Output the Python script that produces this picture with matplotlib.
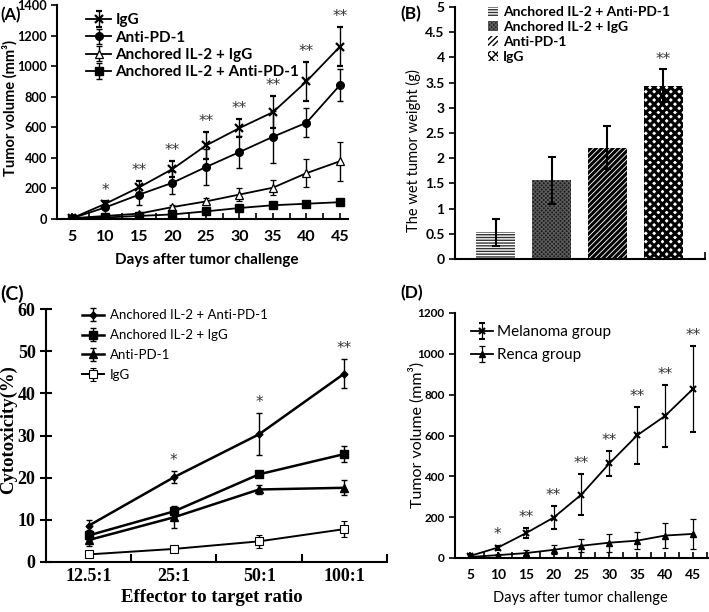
import matplotlib
matplotlib.use("Agg")
import matplotlib.pyplot as plt
import numpy as np

# ---------------- data ----------------
days = [5, 10, 15, 20, 25, 30, 35, 40, 45]
a_igg = [5, 100, 207, 327, 481, 595, 699, 900, 1128]
a_igg_err = [5, 15, 40, 55, 90, 60, 105, 125, 130]
a_pd1 = [5, 76, 159, 237, 340, 438, 538, 630, 876]
a_pd1_err = [3, 12, 65, 75, 120, 105, 170, 95, 105]
a_il2igg = [5, 20, 35, 78, 115, 160, 205, 300, 378]
a_il2igg_err = [2, 5, 10, 15, 25, 40, 50, 90, 128]
a_il2pd1 = [3, 10, 20, 30, 50, 72, 90, 100, 110]
a_il2pd1_err = [2, 3, 5, 6, 7, 8, 8, 8, 8]
a_stars = ["", "*", "**", "**", "**", "**", "**", "**", "**"]

b_groups = ["Anchored IL-2 + Anti-PD-1", "Anchored IL-2 + IgG", "Anti-PD-1", "IgG"]
b_vals = [0.53, 1.56, 2.21, 3.44]
b_err = [0.27, 0.46, 0.43, 0.32]

ratios = ["12.5:1", "25:1", "50:1", "100:1"]
c_il2pd1 = [8.6, 20.1, 30.3, 44.7]
c_il2pd1_err = [1.4, 1.4, 5.0, 3.4]
c_il2igg = [6.3, 12.0, 20.8, 25.6]
c_il2igg_err = [1.2, 1.3, 0.7, 2.0]
c_pd1 = [5.2, 10.6, 17.2, 17.6]
c_pd1_err = [1.3, 2.5, 1.0, 1.8]
c_igg = [1.8, 3.1, 4.9, 7.8]
c_igg_err = [0.3, 0.4, 1.5, 1.9]
c_stars = ["", "*", "*", "**"]

d_mel = [10, 51, 121, 198, 311, 463, 601, 696, 828]
d_mel_err = [8, 10, 25, 55, 98, 62, 140, 150, 210]
d_ren = [5, 14, 24, 40, 60, 75, 85, 110, 118]
d_ren_err = [8, 8, 15, 22, 32, 45, 42, 60, 75]
d_stars = ["", "*", "**", "**", "**", "**", "**", "**", "**"]

# ---------------- figure ----------------
W, H = 709, 612
fig = plt.figure(figsize=(W / 100, H / 100), dpi=100)

SANS = ['Lato', 'DejaVu Sans']
SERIF = ['Liberation Serif', 'DejaVu Serif']


def ftext(x, y, s, **kw):
    """Place text at figure pixel coords measured from the top-left."""
    return fig.text(x / W, 1 - y / H, s, ha=kw.pop('ha', 'center'), va=kw.pop('va', 'center'), **kw)


def style_axes(ax):
    for s in ['top', 'right']:
        ax.spines[s].set_visible(False)
    for s in ['left', 'bottom']:
        ax.spines[s].set_linewidth(1.5)


def rect(l, t, r, b):
    return [l / W, 1 - b / H, (r - l) / W, (b - t) / H]


# ---------- Panel A ----------
axA = fig.add_axes(rect(57, 5, 348, 219))
style_axes(axA)
ekw = dict(color='black', lw=1.3, capsize=2.5, elinewidth=1.0, capthick=1.0)
axA.errorbar(days, a_igg, yerr=a_igg_err, marker='x', ms=6, mew=1.6, label='IgG', **ekw)
axA.errorbar(days, a_pd1, yerr=a_pd1_err, marker='o', ms=5.5, label='Anti-PD-1', **ekw)
axA.errorbar(days, a_il2igg, yerr=a_il2igg_err, marker='^', ms=6, mfc='white', mew=0.9,
             label='Anchored IL-2 + IgG', **ekw)
axA.errorbar(days, a_il2pd1, yerr=a_il2pd1_err, marker='s', ms=5.5, label='Anchored IL-2 + Anti-PD-1', **ekw)
for x, y, e, s in zip(days, a_igg, a_igg_err, a_stars):
    if s:
        axA.text(x, y + e + 20, s, ha='center', va='bottom', fontsize=11, color='#333333',
                 family=['DejaVu Sans'])
axA.set_xlim(2.76, 46.2)
axA.set_ylim(0, 1400)
axA.set_xticks(days)
axA.set_xticks(np.arange(7.5, 46, 5), minor=True)
axA.set_yticks(np.arange(0, 1401, 200))
axA.tick_params(axis='x', direction='in', length=4, width=1.2, labelsize=11.5, pad=8)
axA.tick_params(axis='x', which='minor', direction='in', length=4, width=1.2)
axA.tick_params(axis='y', direction='out', length=4, width=1.2, labelsize=9.2, pad=3)
for lab in axA.get_xticklabels() + axA.get_yticklabels():
    lab.set_family(SANS); lab.set_fontweight('bold')
ftext(207, 260, 'Days after tumor challenge', family=SANS, fontweight='bold', fontsize=11)
ftext(10, 108, 'Tumor volume (mm³)', family=SANS, fontweight='bold', fontsize=10.5, rotation=90)
axA.legend(loc='upper left', bbox_to_anchor=(0.08, 0.99), frameon=False,
           prop={'family': SANS, 'weight': 'bold', 'size': 11},
           handlelength=1.6, handletextpad=0.3, labelspacing=0.22, borderaxespad=0)
ftext(0, 15, '(A)', family=SANS, fontweight='bold', fontsize=12, ha='left')

# ---------- Panel B ----------
axB = fig.add_axes(rect(455, 7, 705, 259))
style_axes(axB)
xb = np.arange(len(b_groups))
facecols = ['white', '#1c1c1c', 'white', 'white']
hatches = ['------', 'xxxxxxxx', '//////', 'xxxx']
hcols = ['#333333', '#5c5c5c', 'black', 'black']
hlws = [1.0, 0.8, 2.2, 2.2]
for i in range(len(b_groups)):
    with plt.rc_context({'hatch.linewidth': hlws[i]}):
        axB.bar(xb[i], b_vals[i], width=0.7, color=facecols[i], edgecolor=hcols[i], linewidth=0,
                hatch=hatches[i], label=b_groups[i])
axB.errorbar(xb, b_vals, yerr=b_err, fmt='none', ecolor='black', elinewidth=1.5, capsize=3, capthick=1.5)
axB.text(xb[3], b_vals[3] + b_err[3] + 0.05, '**', ha='center', va='bottom', fontsize=11,
         color='#333333', family=['DejaVu Sans'])
axB.set_xlim(-0.736, 3.754)
axB.set_ylim(0, 5)
axB.set_xticks([3.754])
axB.set_xticklabels([''])
axB.tick_params(axis='x', direction='in', length=5, width=1.2)
axB.set_yticks(np.arange(0, 5.01, 0.5))
axB.set_yticklabels(['0', '0.5', '1', '1.5', '2', '2.5', '3', '3.5', '4', '4.5', '5'])
axB.tick_params(axis='y', direction='out', length=4, width=1.2, labelsize=10)
for lab in axB.get_yticklabels():
    lab.set_family(SANS); lab.set_fontweight('bold')
ftext(413, 151, 'The wet tumor weight (g)', family=SANS, fontsize=10.5, rotation=90)
axB.legend(loc='upper left', bbox_to_anchor=(0.11, 1.025), frameon=False,
           prop={'family': SANS, 'weight': 'bold', 'size': 10},
           handlelength=0.7, handleheight=0.7, handletextpad=0.4, labelspacing=0.2,
           borderaxespad=0)
ftext(400, 14, '(B)', family=SANS, fontweight='bold', fontsize=12.5, ha='left')

# ---------- Panel C ----------
axC = fig.add_axes(rect(46, 309, 387, 562))
style_axes(axC)
xc = np.arange(len(ratios))
ekc = dict(color='black', lw=1.8, capsize=2.5, elinewidth=1.0, capthick=1.0)
axC.errorbar(xc, c_il2pd1, yerr=c_il2pd1_err, marker='D', ms=3.5, label='Anchored IL-2 + Anti-PD-1', **ekc)
axC.errorbar(xc, c_il2igg, yerr=c_il2igg_err, marker='s', ms=5.5, label='Anchored IL-2 + IgG', **ekc)
axC.errorbar(xc, c_pd1, yerr=c_pd1_err, marker='^', ms=5.5, label='Anti-PD-1', **ekc)
axC.errorbar(xc, c_igg, yerr=c_igg_err, marker='s', ms=5.5, mfc='white', mew=0.8, label='IgG',
             color='black', lw=1.4, capsize=2.5, elinewidth=1.0, capthick=1.0)
for x, y, e, s in zip(xc, c_il2pd1, c_il2pd1_err, c_stars):
    if s:
        axC.text(x, y + e + 0.8, s, ha='center', va='bottom', fontsize=11, color='#333333',
                 family=['DejaVu Sans'])
axC.set_xlim(-0.5, 3.5)
axC.set_ylim(0, 60)
axC.set_xticks(xc)
axC.set_xticklabels(ratios)
axC.set_xticks([0.5, 1.5, 2.5, 3.5], minor=True)
axC.tick_params(axis='x', which='major', length=0, labelsize=13, pad=4)
axC.tick_params(axis='x', which='minor', direction='in', length=6, width=1.5)
axC.set_yticks(np.arange(0, 61, 10))
axC.tick_params(axis='y', direction='inout', length=8, width=1.5, labelsize=13)
for lab in axC.get_xticklabels() + axC.get_yticklabels():
    lab.set_family(SERIF); lab.set_fontweight('bold')
ftext(212, 598, 'Effector to target ratio', family=SERIF, fontweight='bold', fontsize=13.5)
ftext(8, 430, 'Cytotoxicity(%)', family=SERIF, fontweight='bold', fontsize=13.5, rotation=90)
axC.legend(loc='upper left', bbox_to_anchor=(0.09, 1.02), frameon=False,
           prop={'family': SANS, 'size': 9.5},
           handlelength=1.7, handletextpad=0.4, labelspacing=0.6, borderaxespad=0)
ftext(0, 294, '(C)', family=SANS, fontweight='bold', fontsize=14, ha='left')

# ---------- Panel D ----------
axD = fig.add_axes(rect(455, 313, 708, 558))
style_axes(axD)
ekd = dict(color='black', lw=1.3, capsize=2.5, elinewidth=0.9, capthick=0.9)
axD.errorbar(days, d_mel, yerr=d_mel_err, marker='x', ms=5, mew=1.5, label='Melanoma group', **ekd)
axD.errorbar(days, d_ren, yerr=d_ren_err, marker='^', ms=5, label='Renca group', **ekd)
for x, y, e, s in zip(days, d_mel, d_mel_err, d_stars):
    if s:
        axD.text(x, y + e + 15, s, ha='center', va='bottom', fontsize=11, color='#333333',
                 family=['DejaVu Sans'])
axD.set_xlim(2.31, 47.7)
axD.set_ylim(0, 1200)
axD.set_xticks(days)
axD.set_xticks(np.arange(7.5, 48, 5), minor=True)
axD.set_yticks(np.arange(0, 1201, 200))
axD.tick_params(axis='x', direction='in', length=4, width=1.2, labelsize=10, pad=8)
axD.tick_params(axis='x', which='minor', direction='in', length=4, width=1.2)
axD.tick_params(axis='y', direction='out', length=4, width=1.2, labelsize=8.5)
for lab in axD.get_xticklabels() + axD.get_yticklabels():
    lab.set_family(SANS); lab.set_fontweight('bold')
ftext(580, 598, 'Days after tumor challenge', family=SANS, fontsize=10.5)
ftext(417, 435, 'Tumor volume (mm³)', family=SANS, fontsize=11.5, rotation=90)
axD.legend(loc='upper left', bbox_to_anchor=(0.04, 0.975), frameon=False,
           prop={'family': SANS, 'size': 11},
           handlelength=1.4, handletextpad=0.3, labelspacing=0.6, borderaxespad=0)
ftext(400, 293, '(D)', family=SANS, fontweight='bold', fontsize=12.5, ha='left')

fig.savefig('out.png', dpi=100)
